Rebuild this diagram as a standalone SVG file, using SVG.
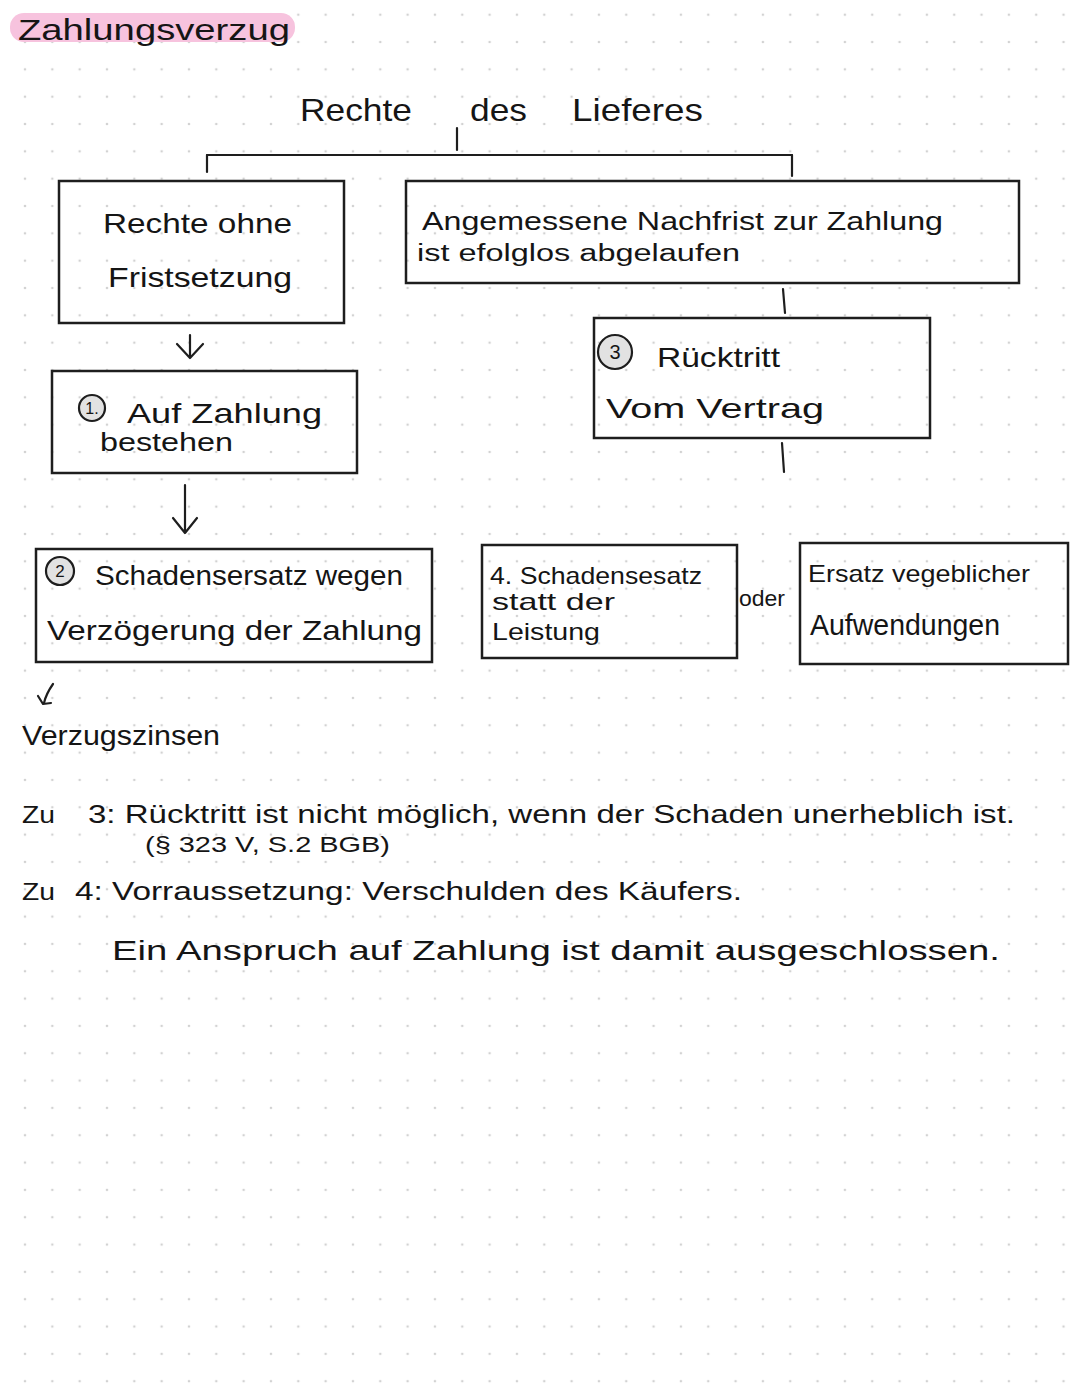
<svg xmlns="http://www.w3.org/2000/svg" width="1080" height="1394" viewBox="0 0 1080 1394">
<defs>
<pattern id="dots" x="11.33" y="1.03" width="27.33" height="27.33" patternUnits="userSpaceOnUse">
<circle cx="13.67" cy="13.67" r="1.3" fill="#d2d2d2"/>
</pattern>
<style>
.t{font-family:"Liberation Sans","DejaVu Sans",sans-serif;fill:#151515;}
.box{fill:none;stroke:#1e1e1e;stroke-width:2.5;}
.num{fill:#e2e2e2;stroke:#1e1e1e;stroke-width:2.2;}
.ln{fill:none;stroke:#1e1e1e;stroke-width:2.2;stroke-linecap:round;stroke-linejoin:round;}
</style>
</defs>
<rect width="1080" height="1394" fill="#ffffff"/>
<rect width="1080" height="1394" fill="url(#dots)"/>

<g id="title">
<rect x="10" y="13" width="285" height="29" rx="14" fill="#f7c3de"/>
<text class="t" x="18" y="40" font-size="30" textLength="272" lengthAdjust="spacingAndGlyphs">Zahlungsverzug</text>
</g>

<g id="root">
<text class="t" x="300" y="121" font-size="32" textLength="112" lengthAdjust="spacingAndGlyphs">Rechte</text>
<text class="t" x="470" y="121" font-size="32" textLength="57" lengthAdjust="spacingAndGlyphs">des</text>
<text class="t" x="572" y="121" font-size="32" textLength="131" lengthAdjust="spacingAndGlyphs">Lieferes</text>
</g>

<g id="connectors">
<path class="ln" d="M457 128 L457 150"/>
<path class="ln" d="M207 155 L792 155"/>
<path class="ln" d="M207 155 L207 172"/>
<path class="ln" d="M792 155 L792 176"/>
<path class="ln" d="M190 335 L190 357 M177 344 L190 358 L203 344"/>
<path class="ln" d="M185 485 L185 532 M173 518 L185 533 L197 518"/>
<path class="ln" d="M783 289 L785 313"/>
<path class="ln" d="M782 443 L784 472"/>
<path class="ln" d="M53 684 Q46 694 44 703 M38 696 L43 704 L51 703"/>
</g>

<g id="node-ohne-frist">
<rect class="box" x="59" y="181" width="285" height="142"/>
<text class="t" x="103" y="233" font-size="28" textLength="189" lengthAdjust="spacingAndGlyphs">Rechte ohne</text>
<text class="t" x="108" y="287" font-size="28" textLength="184" lengthAdjust="spacingAndGlyphs">Fristsetzung</text>
</g>

<g id="node-1">
<rect class="box" x="52" y="371" width="305" height="102"/>
<circle class="num" cx="92" cy="408" r="13"/>
<text class="t" x="92" y="414" font-size="16" text-anchor="middle">1.</text>
<text class="t" x="127" y="423" font-size="28" textLength="195" lengthAdjust="spacingAndGlyphs">Auf Zahlung</text>
<text class="t" x="100" y="451" font-size="26" textLength="133" lengthAdjust="spacingAndGlyphs">bestehen</text>
</g>

<g id="node-2">
<rect class="box" x="36" y="549" width="396" height="113"/>
<circle class="num" cx="60" cy="571" r="14"/>
<text class="t" x="60" y="577" font-size="17" text-anchor="middle">2</text>
<text class="t" x="95" y="585" font-size="28" textLength="308" lengthAdjust="spacingAndGlyphs">Schadensersatz wegen</text>
<text class="t" x="47" y="640" font-size="28" textLength="375" lengthAdjust="spacingAndGlyphs">Verzögerung der Zahlung</text>
</g>

<g id="node-verzugszinsen">
<text class="t" x="22" y="745" font-size="28" textLength="198" lengthAdjust="spacingAndGlyphs">Verzugszinsen</text>
</g>

<g id="node-nachfrist">
<rect class="box" x="406" y="181" width="613" height="102"/>
<text class="t" x="422" y="230" font-size="26" textLength="521" lengthAdjust="spacingAndGlyphs">Angemessene Nachfrist  zur Zahlung</text>
<text class="t" x="417" y="261" font-size="23" textLength="323" lengthAdjust="spacingAndGlyphs">ist efolglos abgelaufen</text>
</g>

<g id="node-3">
<rect class="box" x="594" y="318" width="336" height="120"/>
<circle class="num" cx="615" cy="352" r="17"/>
<text class="t" x="615" y="359" font-size="20" text-anchor="middle">3</text>
<text class="t" x="657" y="367" font-size="28" textLength="123" lengthAdjust="spacingAndGlyphs">Rücktritt</text>
<text class="t" x="606" y="418" font-size="28" textLength="218" lengthAdjust="spacingAndGlyphs">Vom Vertrag</text>
</g>

<g id="node-4">
<rect class="box" x="482" y="545" width="255" height="113"/>
<text class="t" x="490" y="584" font-size="24" textLength="212" lengthAdjust="spacingAndGlyphs">4. Schadensesatz</text>
<text class="t" x="492" y="610" font-size="24" textLength="123" lengthAdjust="spacingAndGlyphs">statt der</text>
<text class="t" x="492" y="640" font-size="24" textLength="108" lengthAdjust="spacingAndGlyphs">Leistung</text>
</g>

<g id="label-oder">
<text class="t" x="739" y="606" font-size="22" textLength="46" lengthAdjust="spacingAndGlyphs">oder</text>
</g>

<g id="node-ersatz">
<rect class="box" x="800" y="543" width="268" height="121"/>
<text class="t" x="808" y="582" font-size="24" textLength="222" lengthAdjust="spacingAndGlyphs">Ersatz vegeblicher</text>
<text class="t" x="810" y="635" font-size="30" textLength="190" lengthAdjust="spacingAndGlyphs">Aufwendungen</text>
</g>

<g id="notes">
<text class="t" x="22" y="823" font-size="24" textLength="33" lengthAdjust="spacingAndGlyphs">Zu</text>
<text class="t" x="88" y="823" font-size="26" textLength="927" lengthAdjust="spacingAndGlyphs">3: Rücktritt ist nicht möglich, wenn der Schaden unerheblich ist.</text>
<text class="t" x="145" y="852" font-size="22" textLength="245" lengthAdjust="spacingAndGlyphs">(§ 323 V, S.2 BGB)</text>
<text class="t" x="22" y="900" font-size="24" textLength="33" lengthAdjust="spacingAndGlyphs">Zu</text>
<text class="t" x="75" y="900" font-size="26" textLength="667" lengthAdjust="spacingAndGlyphs">4: Vorraussetzung: Verschulden des Käufers.</text>
<text class="t" x="112" y="960" font-size="28" textLength="888" lengthAdjust="spacingAndGlyphs">Ein Anspruch auf Zahlung ist damit ausgeschlossen.</text>
</g>
</svg>
